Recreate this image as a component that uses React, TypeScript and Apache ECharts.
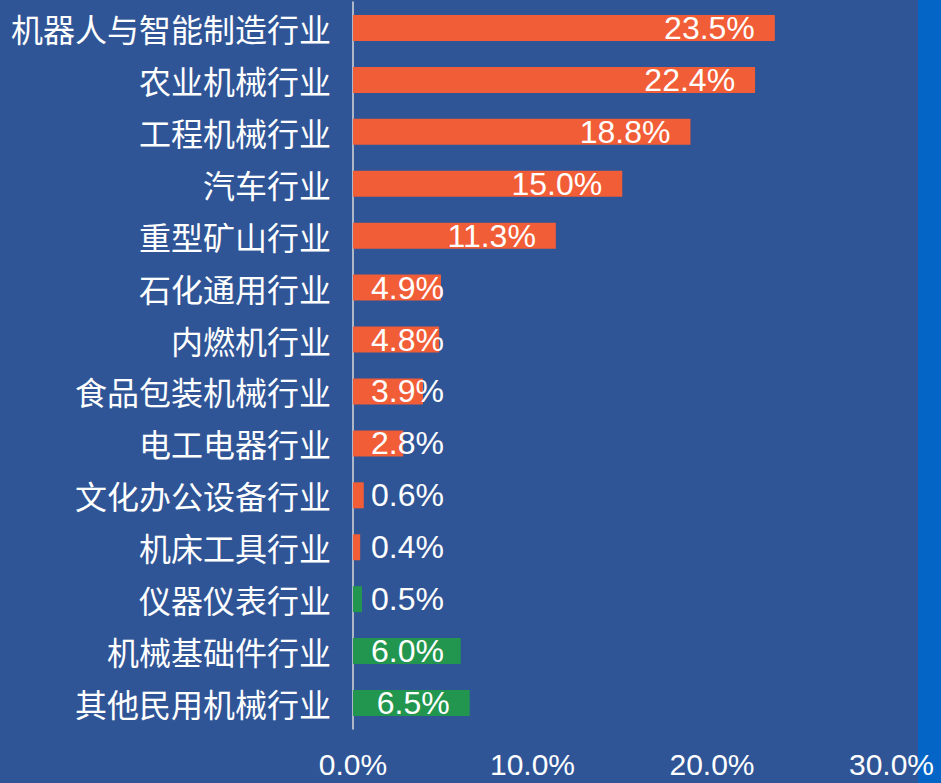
import React, { useEffect, useRef } from "react";
import * as echarts from "echarts";

const categories = [
  "机器人与智能制造行业",
  "农业机械行业",
  "工程机械行业",
  "汽车行业",
  "重型矿山行业",
  "石化通用行业",
  "内燃机行业",
  "食品包装机械行业",
  "电工电器行业",
  "文化办公设备行业",
  "机床工具行业",
  "仪器仪表行业",
  "机械基础件行业",
  "其他民用机械行业",
];
const values = [23.5, 22.4, 18.8, 15.0, 11.3, 4.9, 4.8, 3.9, 2.8, 0.6, 0.4, 0.5, 6.0, 6.5];
const isDecline = [false, false, false, false, false, false, false, false, false, false, false, true, true, true];
const xTicks = [0, 10, 20, 30];

const COLOR_UP = "#F15D37";
const COLOR_DOWN = "#22964E";

export default function App() {
  const ref = useRef<HTMLDivElement>(null);
  useEffect(() => {
    if (!ref.current) return;
    const chart = echarts.init(ref.current, undefined, { renderer: "svg" });
    const gridLeft = 353;
    const gridRight = 49.5;
    const plotW = 941 - gridLeft - gridRight;
    const pxPerUnit = plotW / (xTicks[xTicks.length - 1] - xTicks[0]);
    const labelW = 73;
    const inset = 19;
    chart.setOption({
      animation: false,
      backgroundColor: "transparent",
      grid: { left: gridLeft, right: gridRight, top: 2, bottom: 54, containLabel: false },
      xAxis: {
        type: "value",
        min: xTicks[0],
        max: xTicks[xTicks.length - 1],
        interval: 10,
        axisLine: { show: false },
        axisTick: { show: false },
        splitLine: { show: false },
        axisLabel: {
          color: "#FFFFFF",
          fontSize: 30,
          lineHeight: 25,
          fontFamily: "Liberation Sans, Arial, sans-serif",
          margin: 23,
          formatter: (v: number) => v.toFixed(1) + "%",
        },
      },
      yAxis: {
        type: "category",
        data: categories,
        inverse: true,
        axisTick: { show: false },
        axisLine: { show: true, lineStyle: { color: "#D9D9D9", width: 1.5 } },
        axisLabel: {
          color: "#FFFFFF",
          fontSize: 32,
          fontFamily: "Noto Sans CJK SC, sans-serif",
          margin: 22,
          padding: [9, 0, 0, 0],
        },
      },
      series: [
        {
          type: "bar",
          barWidth: 26,
          data: values.map((v, i) => {
            const barPx = v * pxPerUnit;
            const clamp = barPx - inset - labelW < inset;
            return {
              value: v,
              itemStyle: { color: isDecline[i] ? COLOR_DOWN : COLOR_UP },
              label: clamp
                ? { position: [inset - 1, "50%"], align: "left", verticalAlign: "middle" }
                : { position: "insideRight", distance: inset + 1 },
            };
          }),
          label: {
            show: true,
            color: "#FFFFFF",
            fontSize: 32,
            fontFamily: "Liberation Sans, Arial, sans-serif",
            formatter: (p: any) => p.value.toFixed(1) + "%",
          },
        },
      ],
    });
    return () => chart.dispose();
  }, []);
  return (
    <div
      ref={ref}
      style={{
        position: "fixed",
        left: 0,
        top: 0,
        width: 941,
        height: 783,
        background: "linear-gradient(to right, #2F5597 0px, #2F5597 918px, #0565C6 918px, #0565C6 941px)",
      }}
    />
  );
}
